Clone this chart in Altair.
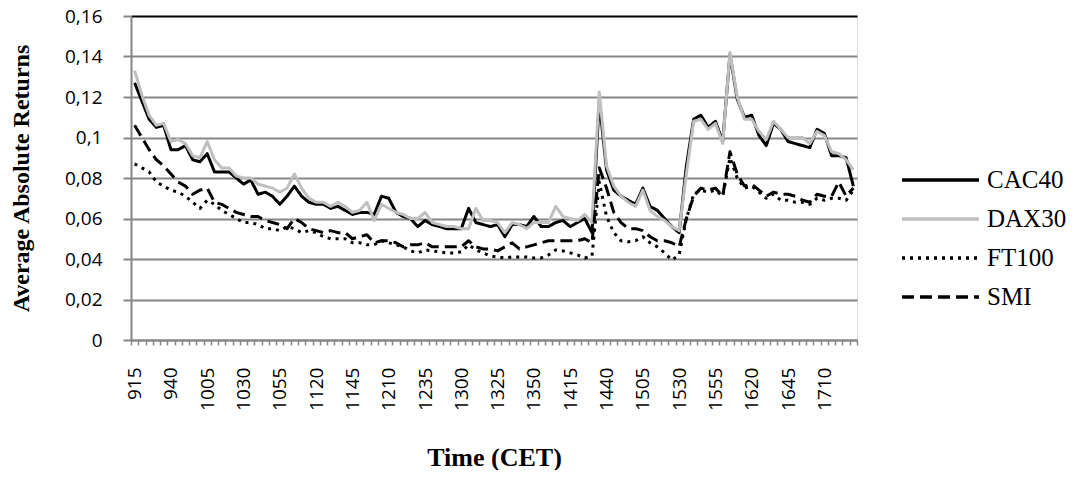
import altair as alt
import pandas as pd

times = [915, 920, 925, 930, 935, 940, 945, 950, 955,
         1000, 1005, 1010, 1015, 1020, 1025, 1030, 1035, 1040, 1045, 1050, 1055,
         1100, 1105, 1110, 1115, 1120, 1125, 1130, 1135, 1140, 1145, 1150, 1155,
         1200, 1205, 1210, 1215, 1220, 1225, 1230, 1235, 1240, 1245, 1250, 1255,
         1300, 1305, 1310, 1315, 1320, 1325, 1330, 1335, 1340, 1345, 1350, 1355,
         1400, 1405, 1410, 1415, 1420, 1425, 1430, 1435, 1440, 1445, 1450, 1455,
         1500, 1505, 1510, 1515, 1520, 1525, 1530, 1535, 1540, 1545, 1550, 1555,
         1600, 1605, 1610, 1615, 1620, 1625, 1630, 1635, 1640, 1645, 1650, 1655,
         1700, 1705, 1710, 1715, 1720, 1725, 1730]

cac40 = [0.127, 0.118, 0.109, 0.105, 0.106, 0.094, 0.094, 0.096, 0.089, 0.088,
         0.092, 0.083, 0.083, 0.083, 0.080, 0.077, 0.079, 0.072, 0.073, 0.071,
         0.067, 0.071, 0.076, 0.071, 0.068, 0.067, 0.067, 0.065, 0.066, 0.064,
         0.062, 0.063, 0.063, 0.062, 0.071, 0.070, 0.063, 0.061, 0.060, 0.056,
         0.059, 0.057, 0.056, 0.055, 0.055, 0.055, 0.065, 0.058, 0.057, 0.056,
         0.057, 0.051, 0.057, 0.057, 0.056, 0.061, 0.056, 0.056, 0.058, 0.059,
         0.056, 0.058, 0.060, 0.053, 0.118, 0.084, 0.074, 0.071, 0.069, 0.067,
         0.075, 0.066, 0.064, 0.060, 0.056, 0.053, 0.086, 0.109, 0.111, 0.105,
         0.108, 0.098, 0.141, 0.119, 0.110, 0.111, 0.101, 0.096, 0.107, 0.104,
         0.098, 0.097, 0.096, 0.095, 0.104, 0.102, 0.091, 0.091, 0.090, 0.076]

dax30 = [0.133, 0.121, 0.111, 0.106, 0.107, 0.098, 0.099, 0.097, 0.091, 0.090,
         0.098, 0.089, 0.085, 0.085, 0.081, 0.080, 0.080, 0.077, 0.076, 0.075,
         0.073, 0.075, 0.082, 0.075, 0.070, 0.068, 0.068, 0.066, 0.068, 0.066,
         0.063, 0.064, 0.068, 0.059, 0.067, 0.065, 0.063, 0.062, 0.060, 0.060,
         0.063, 0.058, 0.057, 0.056, 0.056, 0.055, 0.055, 0.065, 0.059, 0.059,
         0.058, 0.053, 0.058, 0.057, 0.055, 0.058, 0.058, 0.058, 0.066, 0.061,
         0.060, 0.059, 0.062, 0.058, 0.1225, 0.086, 0.076, 0.071, 0.068, 0.066,
         0.074, 0.064, 0.061, 0.059, 0.056, 0.054, 0.082, 0.108, 0.109, 0.104,
         0.107, 0.097, 0.142, 0.120, 0.109, 0.109, 0.103, 0.099, 0.108, 0.104,
         0.100, 0.100, 0.100, 0.097, 0.103, 0.101, 0.093, 0.092, 0.089, 0.084]

ft100 = [0.087, 0.085, 0.083, 0.078, 0.076, 0.074, 0.073, 0.071, 0.068, 0.065,
         0.069, 0.067, 0.064, 0.062, 0.060, 0.058, 0.058, 0.057, 0.055, 0.055,
         0.054, 0.056, 0.055, 0.053, 0.054, 0.053, 0.051, 0.050, 0.050, 0.050,
         0.048, 0.048, 0.047, 0.047, 0.049, 0.048, 0.047, 0.046, 0.044, 0.043,
         0.0445, 0.044, 0.0435, 0.043, 0.043, 0.0435, 0.047, 0.0445, 0.043, 0.0415,
         0.041, 0.0405, 0.041, 0.041, 0.041, 0.0405, 0.0405, 0.042, 0.0445, 0.044,
         0.043, 0.042, 0.0405, 0.0415, 0.078, 0.061, 0.053, 0.049, 0.0485, 0.049,
         0.051, 0.048, 0.046, 0.043, 0.0395, 0.042, 0.060, 0.072, 0.074, 0.073,
         0.074, 0.071, 0.090, 0.080, 0.075, 0.076, 0.073, 0.070, 0.072, 0.069,
         0.069, 0.068, 0.068, 0.067, 0.070, 0.069, 0.070, 0.070, 0.069, 0.074]

smi = [0.106, 0.100, 0.094, 0.089, 0.086, 0.082, 0.078, 0.076, 0.072, 0.074,
       0.075, 0.068, 0.067, 0.065, 0.063, 0.062, 0.061, 0.061, 0.059, 0.058,
       0.057, 0.055, 0.060, 0.058, 0.055, 0.054, 0.053, 0.054, 0.053, 0.053,
       0.050, 0.051, 0.052, 0.048, 0.049, 0.049, 0.048, 0.046, 0.047, 0.047,
       0.048, 0.046, 0.046, 0.046, 0.046, 0.046, 0.049, 0.046, 0.045, 0.045,
       0.044, 0.046, 0.048, 0.045, 0.046, 0.047, 0.048, 0.049, 0.049, 0.049,
       0.049, 0.049, 0.050, 0.048, 0.085, 0.075, 0.063, 0.058, 0.055, 0.055,
       0.054, 0.051, 0.049, 0.049, 0.048, 0.046, 0.060, 0.071, 0.075, 0.074,
       0.075, 0.071, 0.093, 0.082, 0.076, 0.077, 0.074, 0.071, 0.073, 0.072,
       0.072, 0.071, 0.069, 0.068, 0.072, 0.071, 0.071, 0.078, 0.071, 0.075]

series_names = ["CAC40", "DAX30", "FT100", "SMI"]
series_values = [cac40, dax30, ft100, smi]
series_colors = ["#000000", "#BFBFBF", "#000000", "#000000"]
series_dashes = [[1, 0], [1, 0], [3, 5], [12, 6]]
y_ticks = [0, 0.02, 0.04, 0.06, 0.08, 0.10, 0.12, 0.14, 0.16]

rows = []
for name, vals in zip(series_names, series_values):
    for t, v in zip(times, vals):
        rows.append({"t": t, "series": name, "value": v})
df = pd.DataFrame(rows)

legend = alt.Legend(
    title=None, orient="none", legendX=769, legendY=144.5,
    symbolType="stroke", symbolSize=5929, symbolStrokeWidth=3.5,
    labelFont="Liberation Serif", labelFontSize=25, labelColor="#000000",
    labelOffset=6, clipHeight=39, rowPadding=0, padding=0,
    labelLimit=200,
)

chart = alt.Chart(df).mark_line(strokeWidth=3, strokeJoin="round").encode(
    x=alt.X("t:O", sort=times,
            scale=alt.Scale(type="band", paddingInner=0, paddingOuter=0),
            axis=alt.Axis(
                title="Time (CET)", labelAngle=-90, labelAlign="right",
                labelBaseline="middle",
                labelExpr="((floor(datum.value/100)*60 + datum.value % 100) - 555) % 25 == 0 ? datum.label : ''",
                labelFont="Open Sans", labelFontSize=19, labelColor="#000000",
                labelPadding=22, tickBand="extent", tickSize=5, tickColor="#868686",
                tickWidth=1.5, domainColor="#868686", domainWidth=2, grid=False,
                titleFont="Liberation Serif", titleFontWeight="bold",
                titleFontSize=26, titleColor="#000000",
                titleX=363, titleY=117, titleBaseline="middle", titleAlign="center",
                labelOverlap=False,
            )),
    y=alt.Y("value:Q",
            scale=alt.Scale(domain=[0, 0.16], nice=False, zero=True),
            axis=alt.Axis(
                title="Average Absolute Returns", values=y_ticks,
                labelExpr="replace(format(datum.value, '.2~f'), '.', ',')",
                labelFont="Open Sans", labelFontSize=19, labelColor="#000000",
                labelPadding=21, tickSize=8, tickColor="#868686", tickWidth=2,
                domainColor="#868686", domainWidth=2,
                grid=True, gridWidth=2,
                gridColor={"condition": {"test": "datum.value >= 0.159", "value": "#000000"},
                           "value": "#868686"},
                titleFont="Liberation Serif", titleFontWeight="bold",
                titleFontSize=24, titleColor="#000000",
                titleX=-110, titleY=162, titleBaseline="middle", titleAlign="center",
                titleAngle=-90,
            )),
    color=alt.Color("series:N",
                    scale=alt.Scale(domain=series_names, range=series_colors),
                    legend=legend),
    strokeDash=alt.StrokeDash("series:N",
                              scale=alt.Scale(domain=series_names, range=series_dashes),
                              legend=legend),
).properties(
    width=726, height=324,
    autosize=alt.AutoSizeParams(type="none"),
    padding={"left": 123, "top": 8, "right": 211, "bottom": 130},
).configure_view(
    stroke="#000000", strokeWidth=2,
).configure(background="#ffffff")

chart.save("out.html", embed_options={"renderer": "svg", "actions": False})
